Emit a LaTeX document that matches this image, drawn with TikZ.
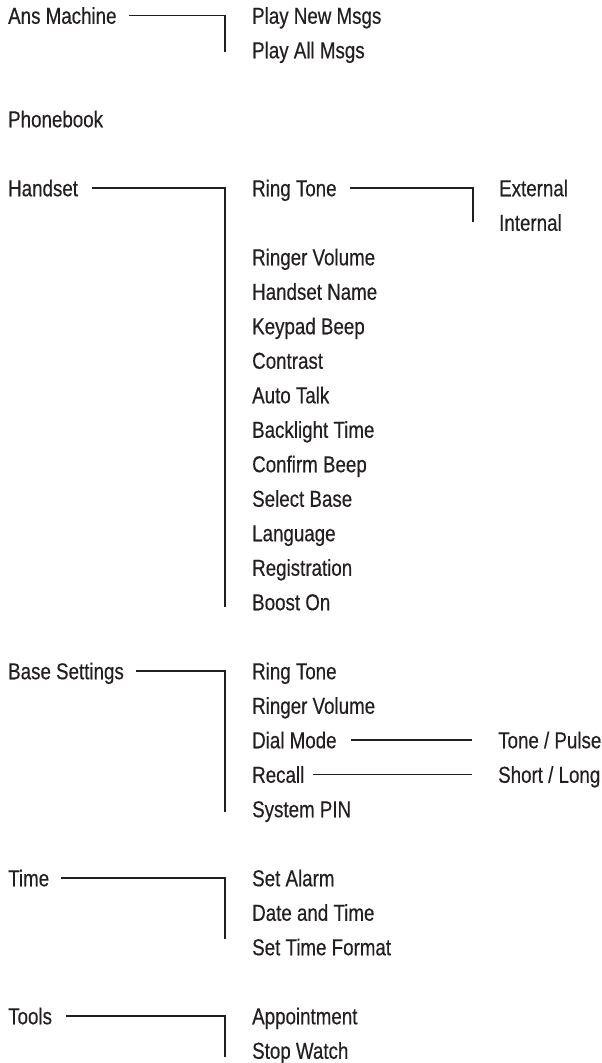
\documentclass[tikz,border=0pt]{standalone}
\usepackage{fontspec}
\setmainfont[FakeStretch=0.815,FakeBold=0.4]{Liberation Sans}
\usetikzlibrary{positioning}
\definecolor{ink}{HTML}{231F20}

\begin{document}
\begin{tikzpicture}[x=1pt, y=-1pt,
  entry/.style={anchor=west, inner sep=0pt, text height=16.5pt, text depth=0pt, text=ink, font=\fontsize{23}{27}\selectfont},
  link/.style={draw=ink, line width=1.6pt}
]
\useasboundingbox (0,0) rectangle (602,1063);

% top level
\node[entry] (ans) at (8,15.5) {Ans Machine};
\node[entry] (phone) at (8,119) {Phonebook};
\node[entry] (hset) at (8,188) {Handset};
\node[entry] (base) at (8,671) {Base Settings};
\node[entry] (time) at (8,878) {Time};
\node[entry] (tools) at (8,1016) {Tools};

% second level
\node[entry] (pnew) at (252,15.5) {Play New Msgs};
\node[entry] (pall) at (252,50) {Play All Msgs};
\node[entry] (ring) at (252,188) {Ring Tone};
\foreach \txt [count=\i] in {Ringer Volume, Handset Name, Keypad Beep, Contrast, Auto Talk, Backlight Time, Confirm Beep, Select Base, Language, Registration, Boost On}
  \node[entry] (hs\i) at (252,{15.5+34.5*(6+\i)}) {\txt};
\foreach \txt [count=\i] in {Ring Tone, Ringer Volume, Dial Mode, Recall, System PIN}
  \node[entry] (bs\i) at (252,{15.5+34.5*(18+\i)}) {\txt};
\foreach \txt [count=\i] in {Set Alarm, Date and Time, Set Time Format}
  \node[entry] (tm\i) at (252,{15.5+34.5*(24+\i)}) {\txt};
\node[entry] (appt) at (252,1016) {Appointment};
\node[entry] (watch) at (252,1050.5) {Stop Watch};

% third level
\node[entry] (ext) at (499,188) {External};
\node[entry] (int) at (499,222.5) {Internal};
\node[entry] (pulse) at (498,{15.5+34.5*21}) {Tone / Pulse};
\node[entry] (long) at (498,{15.5+34.5*22}) {Short / Long};

% connectors
\coordinate (ansend) at (225,52);
\coordinate (hsend) at (225,607);
\coordinate (ringend) at (473,222);
\coordinate (bsend) at (225,812);
\coordinate (tmend) at (225,939);
\coordinate (toolsend) at (225,1057);

\draw[link] ([xshift=12pt]ans.east) -| (ansend);
\draw[link] ([xshift=14pt]hset.east) -| (hsend);
\draw[link] ([xshift=13pt]ring.east) -| (ringend);
\draw[link] ([xshift=12pt]base.east) -| (bsend);
\draw[link] ([xshift=14pt]bs3.east) -- ([xshift=-26pt]pulse.west);
\draw[link] ([xshift=9pt]bs4.east) -- ([xshift=-26pt]long.west);
\draw[link] ([xshift=12pt]time.east) -| (tmend);
\draw[link] ([xshift=14pt]tools.east) -| (toolsend);
\end{tikzpicture}
\end{document}
